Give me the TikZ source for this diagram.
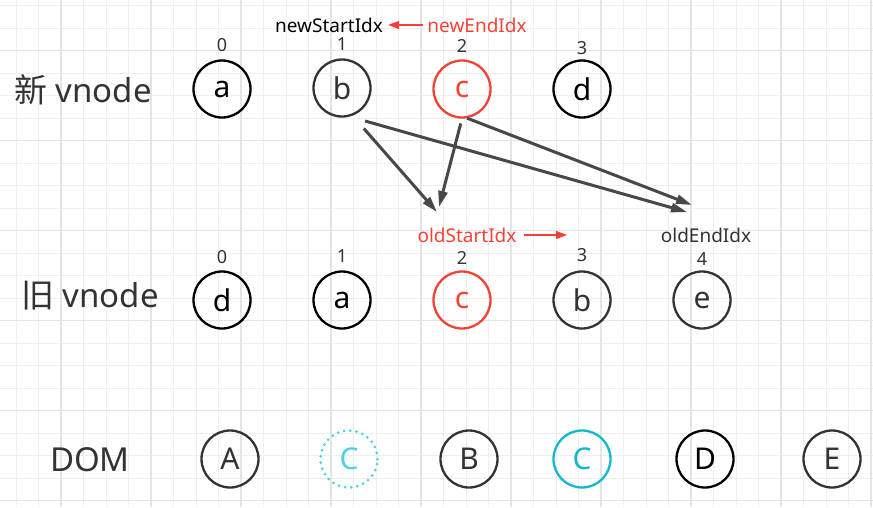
\documentclass[tikz,border=0pt]{standalone}
\usepackage{fontspec}
\setmainfont{Noto Sans}
\newfontfamily\cjk{Noto Sans CJK SC}
\usetikzlibrary{positioning, arrows.meta}
\definecolor{myred}{RGB}{244, 67, 54}
\definecolor{mycyan}{RGB}{18, 184, 208}
\definecolor{mylightcyan}{RGB}{77, 208, 225}
\definecolor{mygray}{RGB}{51, 51, 51}
\definecolor{myarrow}{RGB}{72, 72, 72}
\definecolor{gridminor}{RGB}{238, 238, 238}
\definecolor{gridmajor}{RGB}{228, 228, 228}

\begin{document}
\begin{tikzpicture}[x = 1pt, y = -1pt, node distance = 6pt,
  vnode/.style = {draw, circle, line width = 2.3pt, minimum size = 57pt, inner sep = 0pt, font = \fontsize{30}{30}\selectfont},
  idx/.style = {font = \fontsize{18}{18}\selectfont, text = mygray, inner sep = 0pt},
  ptr/.style = {font = \fontsize{19}{19}\selectfont, inner sep = 0pt},
  rowlabel/.style = {font = \fontsize{33}{33}\selectfont, text = mygray},
  move/.style = {-{Triangle[length = 16pt, width = 9pt]}, line width = 3pt, draw = myarrow},
  ptrarrow/.style = {-{Triangle[length = 11pt, width = 8pt]}, line width = 1.3pt, draw = myred}]
  \useasboundingbox (0,0) rectangle (873,507);
  \fill[white] (0,0) rectangle (873,507);

  % grid
  \foreach \i in {0,...,38} \draw[gridminor, line width = 1pt] ({16+22.5*\i},0) -- ({16+22.5*\i},507);
  \foreach \i in {0,...,22} \draw[gridminor, line width = 1pt] (0,{5.7+22.5*\i}) -- (873,{5.7+22.5*\i});
  \foreach \i in {0,...,9} \draw[gridmajor, line width = 1.2pt] ({61+90*\i},0) -- ({61+90*\i},507);
  \foreach \i in {0,...,5} \draw[gridmajor, line width = 1.2pt] (0,{50.7+90*\i}) -- (873,{50.7+90*\i});

  % row labels
  \node [rowlabel] (newlabel) at (83,90) {{\cjk 新} vnode};
  \node [rowlabel] (oldlabel) at (90,296) {{\cjk 旧} vnode};
  \node [rowlabel] (domlabel) at (90,460) {DOM};

  % new vnodes
  \node [vnode, draw = black] (na) at (222,89) {a};
  \node [vnode, draw = mygray, text = mygray] (nb) at (342,88) {b};
  \node [vnode, draw = myred, text = myred] (nc) at (462,89) {c};
  \node [vnode, draw = black] (nd) at (582,89) {d};
  \node [idx][above = 7pt of na] (ni0) {0};
  \node [idx][above = 8pt of nb] (ni1) {1};
  \node [idx][above = 7pt of nc] (ni2) {2};
  \node [idx][above = 4pt of nd] (ni3) {3};

  % old vnodes
  \node [vnode, draw = black] (od) at (222,300) {d};
  \node [vnode, draw = black] (oa) at (342,300) {a};
  \node [vnode, draw = myred, text = myred] (oc) at (462,300) {c};
  \node [vnode, draw = mygray, text = mygray] (ob) at (582,300) {b};
  \node [vnode, draw = mygray, text = mygray] (oe) at (702,300) {e};
  \node [idx][above = 6pt of od] (oi0) {0};
  \node [idx][above = 8pt of oa] (oi1) {1};
  \node [idx][above = 6pt of oc] (oi2) {2};
  \node [idx][above = 8pt of ob] (oi3) {3};
  \node [idx][above = 5pt of oe] (oi4) {4};

  % dom
  \node [vnode, draw = mygray, text = mygray] (dA) at (230,459) {A};
  \node [vnode, draw = mylightcyan, text = mylightcyan, line width = 3pt, dash pattern = on 0pt off 6.2pt, line cap = round] (dC1) at (349,459) {C};
  \node [vnode, draw = mygray, text = mygray] (dB) at (469,459) {B};
  \node [vnode, draw = mycyan, text = mycyan] (dC2) at (582,459) {C};
  \node [vnode, draw = black] (dD) at (705,459) {D};
  \node [vnode, draw = mygray, text = mygray] (dE) at (832,459) {E};

  % pointers
  \node [ptr] (newStart) at (329,25) {newStartIdx};
  \node [ptr, text = myred] (newEnd) at (477,25) {newEndIdx};
  \node [ptr, text = myred] (oldStart) at (467,235) {oldStartIdx};
  \node [ptr, text = mygray] (oldEnd) at (706,235) {oldEndIdx};
  \coordinate (oldNext) at (567,235);
  \draw [ptrarrow, shorten <= 4pt, shorten >= 5pt] (newEnd) -- (newStart);
  \draw [ptrarrow, shorten <= 7pt] (oldStart) -- (oldNext);

  % moves
  \coordinate (tipS1) at (437,212);
  \coordinate (tipS2) at (439,207);
  \coordinate (tipE1) at (687,212);
  \coordinate (tipE2) at (692,205);
  \draw [move, shorten <= 17pt] (nb.-69) -- (tipS1);
  \draw [move, shorten <= 5pt] (nc.-90) -- (tipS2);
  \draw [move, shorten <= 16pt] (nb.-75) -- (tipE1);
  \draw [move] (nc.-80) -- (tipE2);
\end{tikzpicture}
\end{document}
